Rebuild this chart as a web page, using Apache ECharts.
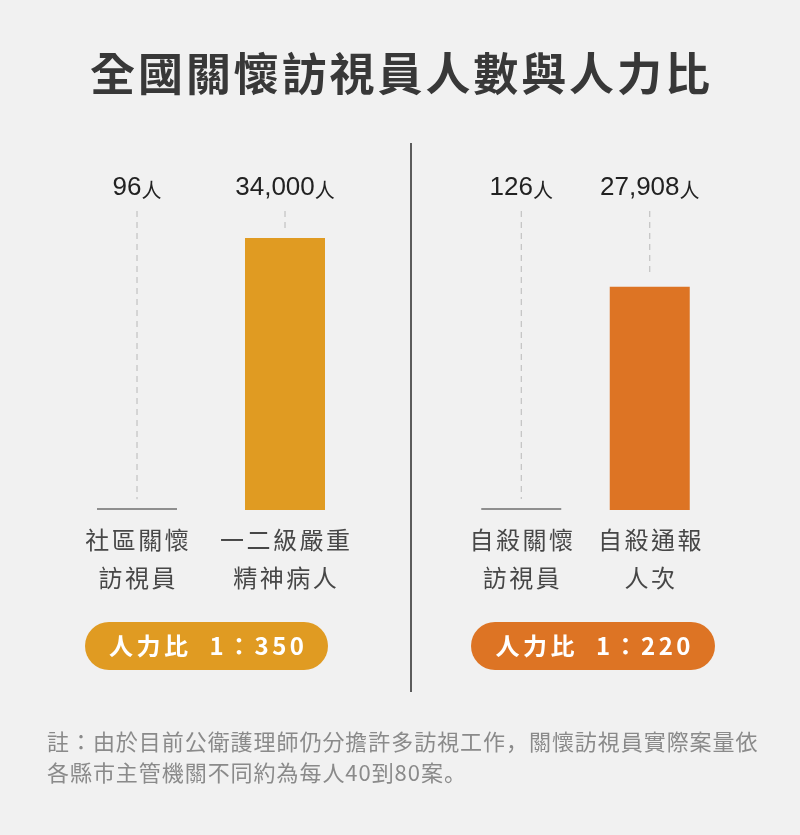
<!DOCTYPE html>
<html><head><meta charset="utf-8">
<script src="https://cdn.jsdelivr.net/npm/echarts@6/dist/echarts.min.js"></script>
<style>html,body{margin:0;padding:0;background:#f1f1f1}#c{width:800px;height:835px}</style>
</head><body><div id="c"></div>
<script>
const titleText = '全國關懷訪視員人數與人力比';
const leftCategories = ['社區關懷\n訪視員', '一二級嚴重\n精神病人'];
const leftValues = [96, 34000];
const rightCategories = ['自殺關懷\n訪視員', '自殺通報\n人次'];
const rightValues = [126, 27908];
const ratioLabels = ['人力比  1：350', '人力比  1：220'];
const noteLines = ['註：由於目前公衛護理師仍分擔許多訪視工作，關懷訪視員實際案量依', '各縣市主管機關不同約為每人40到80案。'];
const unit = '人';

const colors = ['#E09B22', '#DD7424'];
const cjk = '"Noto Sans CJK TC","Noto Sans CJK SC",sans-serif';
const cjkJP = '"Noto Sans CJK JP","Noto Sans CJK TC",sans-serif';
const mctx = document.createElement('canvas').getContext('2d');

// lay out a string character by character with extra letter spacing
function spaced(str, x, y, o) {
  const font = (o.weight || 'normal') + ' ' + o.size + 'px ' + o.family;
  mctx.font = font;
  const chars = Array.from(str);
  const widths = chars.map(c => c.charCodeAt(0) >= 0x2E80 ? o.size : mctx.measureText(c).width);
  const total = widths.reduce((a, b) => a + b, 0) + o.spacing * (chars.length - 1);
  let cx = o.align === 'left' ? x : x - total / 2;
  const out = [];
  chars.forEach((c, i) => {
    out.push({ type: 'text', x: cx + widths[i] / 2, y: y, silent: true,
      style: { text: c, font: font, fill: o.fill, align: 'center', verticalAlign: 'middle' } });
    cx += widths[i] + o.spacing;
  });
  return out;
}

const chart = echarts.init(document.getElementById('c'));

function labelSeries(idx, values, cats) {
  return {
    type: 'custom', xAxisIndex: idx, yAxisIndex: idx, clip: false, silent: true, z: 5,
    data: values.map((v, i) => [i, v]),
    renderItem: function (params, api) {
      const i = api.value(0);
      const top = api.coord([i, api.value(1)]);
      const base = api.coord([i, 0]);
      const x = top[0];
      const lines = cats[i].split('\n');
      let children = [
        { type: 'line', shape: { x1: x, y1: 211, x2: x, y2: top[1] - 10 },
          style: { stroke: '#b8b8b8', lineWidth: 1, lineDash: [6, 5] } },
        { type: 'text', x: x, y: 188,
          style: { text: '{n|' + api.value(1).toLocaleString('en-US') + '}{u|' + unit + '}',
            align: 'center', verticalAlign: 'middle',
            rich: { n: { fontFamily: '"Liberation Sans",Arial,sans-serif', fontSize: 26, fill: '#222' },
                    u: { fontFamily: cjk, fontSize: 20, fill: '#222', padding: [4, 0, 0, 0] } } } }
      ];
      lines.forEach((ln, k) => {
        children = children.concat(spaced(ln, x, base[1] + 30 + k * 38,
          { size: 24, family: cjk, fill: '#474747', spacing: 2.5 }));
      });
      return { type: 'group', children: children };
    }
  };
}

function barSeries(idx, values) {
  return {
    type: 'bar', xAxisIndex: idx, yAxisIndex: idx, barWidth: 80, barMinHeight: 2,
    data: values, silent: true,
    itemStyle: { color: p => p.dataIndex === 0 ? '#8f8f8f' : colors[idx] }
  };
}

const xAxisCommon = {
  type: 'category', axisLine: { show: false }, axisTick: { show: false }, axisLabel: { show: false }
};
const yAxisCommon = { type: 'value', min: 0, max: 34000, show: false, splitLine: { show: false } };

const graphics = [
  { type: 'group', children: spaced(titleText, 400, 74, { size: 45, weight: 'bold', family: cjk, fill: '#383838', spacing: 2.9 }) },
  { type: 'line', shape: { x1: 411, y1: 143, x2: 411, y2: 692 }, style: { stroke: '#2a2a2a', lineWidth: 1.5 } },
  { type: 'rect', shape: { x: 85, y: 622, width: 243, height: 48, r: 24 }, style: { fill: colors[0] } },
  { type: 'group', children: spaced(ratioLabels[0], 206.5, 646, { size: 24, weight: 'bold', family: cjkJP, fill: '#fff', spacing: 3.5 }) },
  { type: 'rect', shape: { x: 471, y: 622, width: 244, height: 48, r: 24 }, style: { fill: colors[1] } },
  { type: 'group', children: spaced(ratioLabels[1], 593, 646, { size: 24, weight: 'bold', family: cjkJP, fill: '#fff', spacing: 3.5 }) },
  { type: 'group', children: spaced(noteLines[0], 47, 742, { size: 22, family: cjkJP, fill: '#8a8a8a', spacing: 0.95, align: 'left' }) },
  { type: 'group', children: spaced(noteLines[1], 47, 773, { size: 22, family: cjkJP, fill: '#8a8a8a', spacing: 0.95, align: 'left' }) }
];

chart.setOption({
  backgroundColor: '#f1f1f1',
  animation: false,
  grid: [
    { left: 63, width: 296, top: 238, bottom: 325 },
    { left: 457, width: 257, top: 238, bottom: 325 }
  ],
  xAxis: [
    Object.assign({ gridIndex: 0, data: leftCategories }, xAxisCommon),
    Object.assign({ gridIndex: 1, data: rightCategories }, xAxisCommon)
  ],
  yAxis: [
    Object.assign({ gridIndex: 0 }, yAxisCommon),
    Object.assign({ gridIndex: 1 }, yAxisCommon)
  ],
  series: [
    barSeries(0, leftValues), barSeries(1, rightValues),
    labelSeries(0, leftValues, leftCategories), labelSeries(1, rightValues, rightCategories)
  ],
  graphic: graphics
});
</script>
</body></html>
